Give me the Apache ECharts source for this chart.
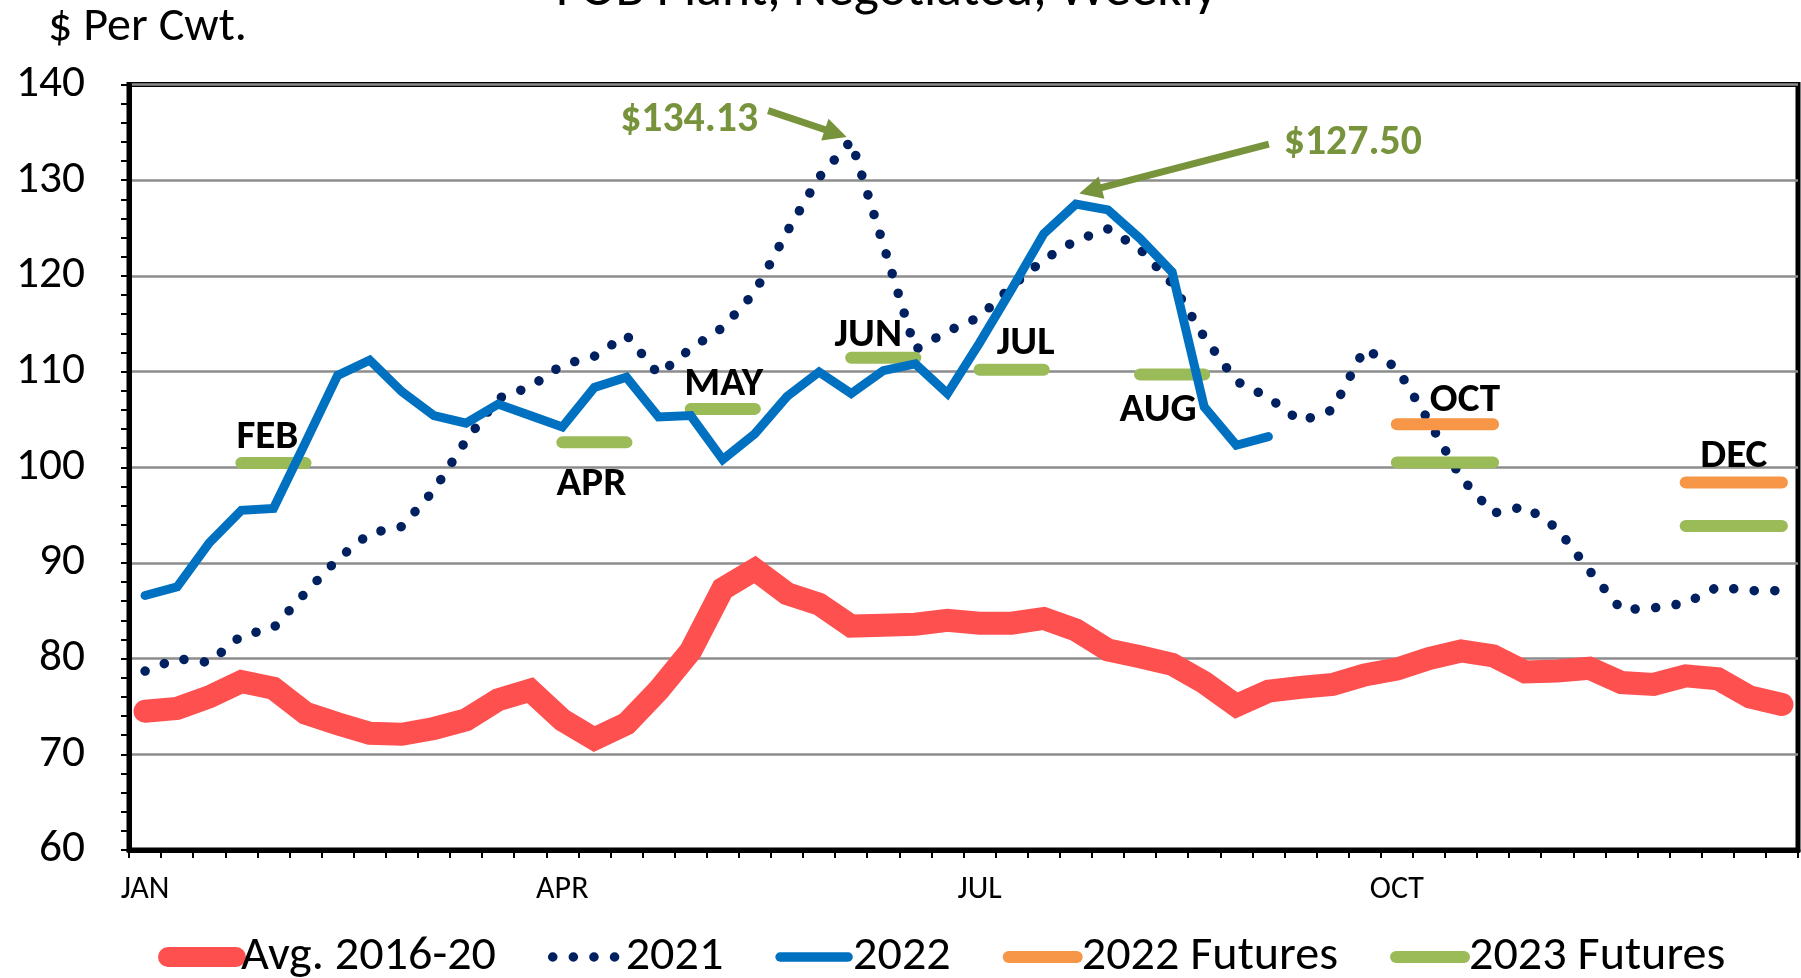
<!DOCTYPE html>
<html>
<head>
<meta charset="utf-8">
<script src="https://cdn.jsdelivr.net/npm/echarts@6/dist/echarts.min.js"></script>
<style>html,body{margin:0;padding:0;background:#fff}#c{width:1801px;height:978px}</style>
</head>
<body>
<div id="c"></div>
<script>
// ---------------- DATA ----------------
const weekCategories = Array.from({length: 52}, (_, i) => 'W' + (i + 1));
const xTickWeeks = [0, 13, 26, 39];
const xTickLabels = ['JAN', 'APR', 'JUL', 'OCT'];
const yMin = 60, yMax = 140, yInterval = 10;

const avg2016_20 = [74.5, 74.8, 76.0, 77.6, 76.9, 74.3, 73.2, 72.2, 72.1, 72.7, 73.6, 75.7, 76.7,
  73.6, 71.6, 73.2, 76.7, 80.8, 87.3, 89.3, 86.8, 85.7, 83.4, 83.5, 83.6, 84.0,
  83.7, 83.7, 84.2, 83.0, 80.9, 80.2, 79.4, 77.5, 75.1, 76.6, 77.0, 77.3, 78.3,
  78.9, 80.0, 80.8, 80.3, 78.6, 78.7, 79.0, 77.5, 77.3, 78.2, 77.9, 76.0, 75.2];

const y2021 = [78.7, 80.0, 79.6, 82.4, 83.2, 86.9, 90.4, 93.1, 93.8, 97.6, 102.8, 107.2, 108.4,
  110.7, 111.6, 113.8, 109.7, 112.4, 114.6, 118.3, 124.6, 130.3, 134.13, 123.3, 112.3, 114.2,
  115.7, 118.9, 121.7, 123.7, 124.9, 122.8, 119.2, 113.6, 109.0, 107.3, 104.8, 106.0, 112.4,
  110.4, 104.8, 98.9, 95.2, 95.9, 93.6, 89.2, 85.1, 85.3, 85.8, 87.5, 87.1, 87.1];

const y2022 = [86.6, 87.5, 92.1, 95.5, 95.7, 102.6, 109.6, 111.2, 107.9, 105.4, 104.6, 106.6, 105.4,
  104.2, 108.35, 109.4, 105.25, 105.4, 100.8, 103.5, 107.4, 109.95, 107.7, 110.1, 110.8, 107.7,
  113.0, 118.6, 124.4, 127.5, 126.9, 123.9, 120.4, 106.3, 102.3, 103.2];

const futuresMonths    = ['FEB', 'APR', 'MAY', 'JUN', 'JUL', 'AUG', 'OCT', 'DEC'];
const futuresStartWeek = [3, 13, 17, 22, 26, 31, 39, 48];
const futuresEndWeek   = [5, 15, 19, 24, 28, 33, 42, 51];
const futures2022      = [null, null, null, null, null, null, 104.5, 98.4];
const futures2023      = [100.45, 102.6, 106.1, 111.45, 110.2, 109.7, 100.5, 93.85];

const peak2021 = {week: 22, value: 134.13, text: '$134.13'};
const peak2022 = {week: 29, value: 127.50, text: '$127.50'};

const titleText = 'FOB Plant, Negotiated, Weekly';
const yUnitText = '$ Per Cwt.';
const legendNames = ['Avg. 2016-20', '2021', '2022', '2022 Futures', '2023 Futures'];

// ---------------- LAYOUT / STYLE ----------------
const monthLabelOffsets = [[-6, -25], [-3, 42], [1, -24], [-15, -22], [14, -26], [-14, 36], [20, -23], [0, -26]];
const colors = {avg: '#FF5050', y2021: '#002060', y2022: '#0070C0', f2022: '#F79646', f2023: '#9BBB59', ann: '#77933C'};
const dotDash = [0.1, 20.5];

const FONT = 'Carlito, "Liberation Sans", sans-serif';

function fit(text, width, weight) {
  const ctx = document.createElement('canvas').getContext('2d');
  ctx.font = (weight || 'normal') + ' 100px ' + FONT;
  return 100 * width / ctx.measureText(text).width;
}
const sz = {
  yLabel: fit('140', 69), xLabel: fit('OCT', 54), legend: fit('Avg. 2016-20', 255),
  yName: fit(yUnitText, 199), title: fit(titleText, 662), month: fit('FEB', 62, 'bold'), ann: fit('$134.13', 138, 'bold')
};

// ---------------- CHART ----------------
const chart = echarts.init(document.getElementById('c'), null, {renderer: 'canvas'});

function futuresData(vals) {
  const d = new Array(weekCategories.length).fill(null);
  vals.forEach((v, k) => { if (v == null) return; for (let w = futuresStartWeek[k]; w <= futuresEndWeek[k]; w++) d[w] = v; });
  return d;
}

chart.setOption({
  animation: false,
  textStyle: {fontFamily: FONT},
  grid: {left: 129, right: 3, top: 84.5, bottom: 128, show: true, borderColor: '#000', borderWidth: 5, backgroundColor: 'transparent'},
  xAxis: {
    type: 'category', data: weekCategories, boundaryGap: true,
    axisLine: {lineStyle: {color: '#000', width: 5}},
    axisTick: {show: true, interval: 0, length: 8, lineStyle: {color: '#000', width: 2}},
    axisLabel: {
      interval: (i) => xTickWeeks.indexOf(i) >= 0,
      formatter: (v, i) => { const k = xTickWeeks.indexOf(i); return k >= 0 ? xTickLabels[k] : ''; },
      color: '#000', fontSize: sz.xLabel, fontFamily: FONT, margin: 24
    },
    splitLine: {show: false}
  },
  yAxis: {
    type: 'value', min: yMin, max: yMax, interval: yInterval,
    axisLine: {show: true, lineStyle: {color: '#000', width: 5}},
    axisTick: {show: true, length: 8, lineStyle: {color: '#000', width: 2}},
    minorTick: {show: true, splitNumber: 5, length: 8, lineStyle: {color: '#000', width: 2}},
    axisLabel: {color: '#000', fontSize: sz.yLabel, fontFamily: FONT, margin: 44},
    splitLine: {show: true, lineStyle: {color: '#8c8c8c', width: 2.5}}
  },
  legend: {
    left: 153, top: 928, itemWidth: 68, itemHeight: 20, itemGap: 52,
    itemStyle: {opacity: 0},
    data: [
      {name: legendNames[0], lineStyle: {width: 20, cap: 'round'}},
      {name: legendNames[1], lineStyle: {width: 9.5, cap: 'round', type: dotDash}},
      {name: legendNames[2], lineStyle: {width: 9.5, cap: 'round'}},
      {name: legendNames[3], lineStyle: {width: 12, cap: 'round'}},
      {name: legendNames[4], lineStyle: {width: 12, cap: 'round'}}
    ],
    textStyle: {color: '#000', fontSize: sz.legend, fontFamily: FONT}
  },
  series: [
    {name: legendNames[0], type: 'line', data: avg2016_20, symbol: 'none', z: 2,
     lineStyle: {color: colors.avg, width: 23, cap: 'round', join: 'miter'}, itemStyle: {color: colors.avg}},
    {name: legendNames[1], type: 'line', data: y2021, symbol: 'none', z: 3,
     lineStyle: {color: colors.y2021, width: 9.5, cap: 'round', type: dotDash}, itemStyle: {color: colors.y2021}},
    {name: legendNames[3], type: 'line', data: futuresData(futures2022), symbol: 'none', connectNulls: false, z: 4,
     lineStyle: {color: colors.f2022, width: 12, cap: 'round'}, itemStyle: {color: colors.f2022}},
    {name: legendNames[4], type: 'line', data: futuresData(futures2023), symbol: 'none', connectNulls: false, z: 4,
     lineStyle: {color: colors.f2023, width: 12, cap: 'round'}, itemStyle: {color: colors.f2023}},
    {name: legendNames[2], type: 'line', data: y2022, symbol: 'none', z: 5,
     lineStyle: {color: colors.y2022, width: 9, cap: 'round', join: 'miter'}, itemStyle: {color: colors.y2022}}
  ]
});

// ---------------- ANNOTATIONS ----------------
function px(w, v) { return chart.convertToPixel({gridIndex: 0}, [w, v]); }
const g = [];
g.push({type: 'text', style: {text: titleText, x: 887, y: -8, align: 'center', verticalAlign: 'middle', font: 'normal ' + sz.title + 'px ' + FONT, fill: '#000'}});
g.push({type: 'text', style: {text: yUnitText, x: 48, y: 28, align: 'left', verticalAlign: 'middle', font: 'normal ' + sz.yName + 'px ' + FONT, fill: '#000'}});

futuresMonths.forEach((m, k) => {
  const v = futures2022[k] != null ? futures2022[k] : futures2023[k];
  const a = px(futuresStartWeek[k], v), b = px(futuresEndWeek[k], v);
  const cx = (a[0] + b[0]) / 2, cy = a[1];
  const o = monthLabelOffsets[k];
  g.push({type: 'text', z: 50, style: {text: m, x: cx + o[0], y: cy + o[1], align: 'center', verticalAlign: 'middle', font: 'bold ' + sz.month + 'px ' + FONT, fill: '#000'}});
});

function arrow(tip, tail, color) {
  const dx = tip[0] - tail[0], dy = tip[1] - tail[1], L = Math.hypot(dx, dy);
  const ux = dx / L, uy = dy / L, hl = 23, hw = 11.5;
  const bx = tip[0] - ux * hl, by = tip[1] - uy * hl;
  g.push({type: 'line', z: 50, shape: {x1: tail[0], y1: tail[1], x2: bx + ux * 2, y2: by + uy * 2}, style: {stroke: color, lineWidth: 7}});
  g.push({type: 'polygon', z: 50, shape: {points: [[tip[0], tip[1]], [bx - uy * hw, by + ux * hw], [bx + uy * hw, by - ux * hw]]}, style: {fill: color}});
}
const p1 = px(peak2021.week, peak2021.value);
arrow([p1[0] - 4.5, p1[1] - 3.7], [p1[0] - 83, p1[1] - 30], colors.ann);
g.push({type: 'text', z: 50, style: {text: peak2021.text, x: p1[0] - 162, y: p1[1] - 20, align: 'center', verticalAlign: 'middle', font: 'bold ' + sz.ann + 'px ' + FONT, fill: colors.ann}});
const p2 = px(peak2022.week, peak2022.value);
arrow([p2[0] + 3.4, p2[1] - 10.6], [p2[0] + 193, p2[1] - 60], colors.ann);
g.push({type: 'text', z: 50, style: {text: peak2022.text, x: p2[0] + 208, y: p2[1] - 61, align: 'left', verticalAlign: 'middle', font: 'bold ' + sz.ann + 'px ' + FONT, fill: colors.ann}});

chart.setOption({graphic: g});
</script>
</body>
</html>
